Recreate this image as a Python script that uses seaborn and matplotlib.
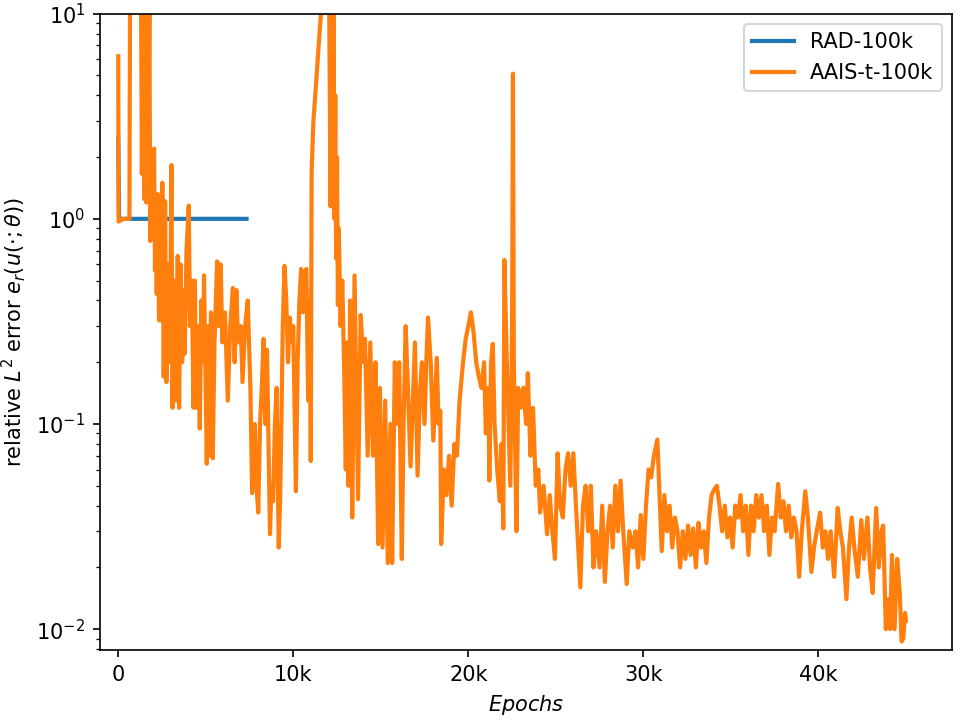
import numpy as np
import pandas as pd
import matplotlib
matplotlib.use("Agg")
import matplotlib.pyplot as plt
import seaborn as sns
from matplotlib.ticker import FuncFormatter

# RAD-100k run (stops early)
rad_epoch = [0, 50, 7330]
rad_err = [2.5, 1.0, 1.0]

# AAIS-t-100k run
aais_epoch = [
    0, 20, 300, 640, 680, 1300, 1350, 1420, 1480, 1550, 1600, 1660, 1720, 1780, 1830,
    1900, 1960, 2000, 2050, 2100, 2150, 2200, 2260, 2330, 2400, 2450, 2520, 2600, 2680,
    2750, 2850, 2950, 3040, 3100, 3200, 3300, 3400, 3480, 3560, 3650, 3750, 3800, 3900,
    4030, 4100, 4200, 4300, 4380, 4450, 4550, 4660, 4750, 4850, 4900, 5000, 5060, 5150,
    5200, 5300, 5400, 5500, 5650, 5750, 5850, 5950, 6100, 6260, 6400, 6550, 6650, 6750,
    6850, 7000, 7100, 7250, 7400, 7550, 7650, 7800, 7900, 8000, 8100, 8200, 8300, 8400,
    8500, 8670, 8750, 8850, 8950, 9050, 9170, 9250, 9320, 9400, 9500, 9600, 9700, 9800,
    9900, 10000, 10150, 10250, 10350, 10450, 10550, 10650, 10750, 10850, 10950, 11000,
    11050, 11150, 11300, 11450, 11600, 12050, 12130, 12180, 12250, 12300, 12350, 12400,
    12450, 12500, 12550, 12600, 12700, 12800, 12900, 13000, 13100, 13150, 13250, 13370,
    13500, 13600, 13700, 13850, 14000, 14100, 14250, 14400, 14550, 14700, 14850, 14950,
    15100, 15250, 15400, 15550, 15650, 15800, 15950, 16050, 16200, 16300, 16420, 16550,
    16700, 16950, 17100, 17250, 17350, 17500, 17600, 17700, 17850, 18000, 18200, 18300,
    18400, 18450, 18600, 18750, 18900, 19050, 19200, 19350, 19500, 19700, 19850, 20000,
    20150, 20300, 20450, 20600, 20750, 20900, 21000, 21150, 21200, 21300, 21400, 21500,
    21650, 21800, 21900, 22000, 22060, 22200, 22300, 22400, 22500, 22550, 22600, 22750,
    22850, 23000, 23150, 23300, 23400, 23550, 23700, 23850, 24000, 24100, 24300, 24500,
    24650, 24800, 24950, 25100, 25250, 25400, 25550, 25700, 25850, 26000, 26150, 26400,
    26550, 26700, 26850, 27000, 27150, 27300, 27500, 27650, 27800, 27950, 28100, 28250,
    28400, 28550, 28700, 28850, 29050, 29200, 29400, 29550, 29700, 29850, 30000, 30150,
    30300, 30450, 30600, 30800, 30950, 31050, 31200, 31350, 31500, 31650, 31800, 31950,
    32100, 32250, 32400, 32550, 32700, 32850, 33000, 33150, 33300, 33450, 33600, 33750,
    33900, 34050, 34200, 34350, 34500, 34650, 34800, 34950, 35100, 35250, 35400, 35550,
    35700, 35850, 36000, 36150, 36300, 36450, 36600, 36750, 36900, 37050, 37200, 37350,
    37500, 37700, 37850, 38000, 38150, 38300, 38450, 38600, 38750, 38900, 39050, 39250,
    39400, 39600, 39750, 39900, 40100, 40250, 40400, 40550, 40700, 40900, 41100, 41250,
    41400, 41600, 41750, 41900, 42050, 42250, 42450, 42600, 42800, 42950, 43100, 43300,
    43450, 43600, 43700, 43850, 44000, 44100, 44200, 44350, 44500, 44650, 44750, 44850,
    44950, 45000,
]
aais_err = [
    6.2, 0.97, 1.0, 1.0, 15, 15, 1.66, 12, 1.25, 12, 1.2, 9, 2.1, 11, 0.78,
    2.0, 1.3, 1.9, 2.2, 0.56, 1.27, 0.43, 1.32, 0.32, 0.9, 0.32, 1.5, 0.17, 1.22,
    0.16, 0.6, 0.2, 1.83, 0.12, 0.5, 0.13, 0.66, 0.12, 0.6, 0.2, 0.45, 0.22, 0.7,
    1.16, 0.3, 0.5, 0.12, 0.5, 0.12, 0.3, 0.095, 0.4, 0.2, 0.53, 0.15, 0.064, 0.3,
    0.07, 0.35, 0.068, 0.25, 0.62, 0.3, 0.6, 0.25, 0.35, 0.13, 0.3, 0.46, 0.2, 0.45,
    0.25, 0.3, 0.16, 0.3, 0.40, 0.15, 0.046, 0.1, 0.05, 0.037, 0.1, 0.15, 0.26, 0.1,
    0.23, 0.029, 0.05, 0.042, 0.1, 0.15, 0.025, 0.043, 0.1, 0.3, 0.59, 0.4, 0.2, 0.33,
    0.25, 0.3, 0.047, 0.2, 0.4, 0.57, 0.35, 0.55, 0.57, 0.13, 0.4, 0.066,
    1.7, 3.0, 4.5, 7.0, 10.5, 12, 1.15, 7, 1.4, 10, 1.0, 4,
    0.64, 2.0, 0.38, 0.9, 0.3, 0.5, 0.2, 0.06, 0.25, 0.05, 0.4, 0.035,
    0.53, 0.15, 0.043, 0.34, 0.2, 0.26, 0.07, 0.25, 0.07, 0.2, 0.026, 0.15,
    0.025, 0.13, 0.021, 0.1, 0.021, 0.2, 0.1, 0.2, 0.022, 0.1, 0.30, 0.15,
    0.062, 0.25, 0.056, 0.15, 0.2, 0.1, 0.2, 0.33, 0.2, 0.083, 0.21, 0.1,
    0.116, 0.026, 0.06, 0.045, 0.07, 0.04, 0.08, 0.07, 0.13, 0.2, 0.26, 0.3,
    0.35, 0.28, 0.2, 0.17, 0.15, 0.2, 0.09, 0.15, 0.053, 0.2, 0.246, 0.1,
    0.06, 0.042, 0.08, 0.031, 0.63, 0.2, 0.1, 0.05, 0.3, 5.1, 0.2, 0.03,
    0.15, 0.12, 0.15, 0.1, 0.177, 0.07, 0.12, 0.05, 0.06, 0.037, 0.05, 0.029,
    0.045, 0.03, 0.022, 0.072, 0.04, 0.035, 0.06, 0.072, 0.05, 0.072, 0.04, 0.016,
    0.04, 0.05, 0.03, 0.05, 0.02, 0.03, 0.02, 0.04, 0.017, 0.03, 0.04, 0.025,
    0.05, 0.03, 0.053, 0.03, 0.0166, 0.03, 0.025, 0.03, 0.02, 0.036, 0.022, 0.04,
    0.06, 0.055, 0.07, 0.084, 0.04, 0.024, 0.045, 0.03, 0.04, 0.025, 0.035, 0.03,
    0.02, 0.03, 0.022, 0.032, 0.023, 0.031, 0.02, 0.033, 0.025, 0.03, 0.021, 0.035,
    0.045, 0.048, 0.05, 0.04, 0.03, 0.04, 0.028, 0.035, 0.025, 0.04, 0.035, 0.045,
    0.03, 0.04, 0.023, 0.04, 0.03, 0.045, 0.035, 0.045, 0.03, 0.04, 0.023, 0.035,
    0.03, 0.051, 0.035, 0.042, 0.03, 0.04, 0.028, 0.035, 0.03, 0.018, 0.03, 0.047,
    0.035, 0.019, 0.025, 0.03, 0.037, 0.025, 0.03, 0.022, 0.03, 0.018, 0.039, 0.03,
    0.025, 0.014, 0.025, 0.035, 0.025, 0.018, 0.034, 0.022, 0.035, 0.02, 0.015, 0.039,
    0.02, 0.03, 0.032, 0.01, 0.014, 0.01, 0.023, 0.01, 0.022, 0.015, 0.0087, 0.009,
    0.012, 0.011,
]

rad = pd.DataFrame({"epoch": rad_epoch, "err": rad_err})
aais = pd.DataFrame({"epoch": aais_epoch, "err": aais_err})

fig, ax = plt.subplots(figsize=(6.4, 4.8), dpi=150)
sns.lineplot(data=rad, x="epoch", y="err", ax=ax, color="#1f77b4", lw=2,
             label="RAD-100k", sort=False, estimator=None)
sns.lineplot(data=aais, x="epoch", y="err", ax=ax, color="#ff7f0e", lw=2,
             label="AAIS-t-100k", sort=False, estimator=None)

ax.set_yscale("log")
ax.set_ylim(0.0079, 10)
ax.set_xlim(-1050, 47650)
ax.xaxis.set_major_formatter(FuncFormatter(lambda v, p: "0" if v == 0 else f"{int(v/1000)}k"))
ax.set_xlabel("$Epochs$")
ax.set_ylabel(r"relative $L^2$ error $e_r(u(\cdot;\theta))$")
ax.legend(loc="upper right")

fig.subplots_adjust(left=0.104, right=0.992, top=0.981, bottom=0.097)
plt.savefig("out.png", dpi=150)
